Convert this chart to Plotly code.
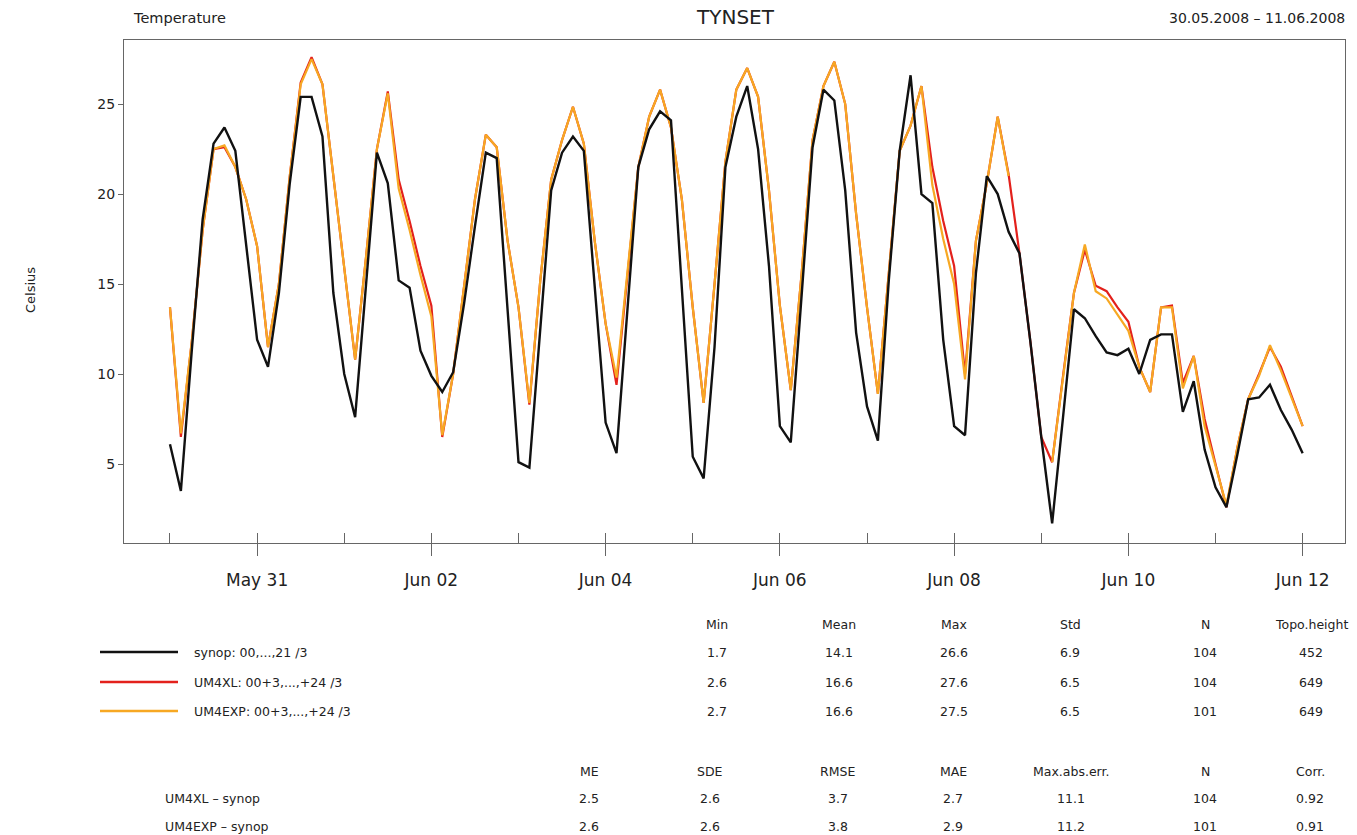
import pandas as pd
import plotly.graph_objects as go

# ---------------- data ----------------
start_time = "2008-05-30 00:00"
step = "3h"

synop = [6.1, 3.5, 11.3, 18.6, 22.8, 23.7, 22.4, 17.1, 11.9, 10.4,
         14.5, 20.6, 25.4, 25.4, 23.2, 14.5, 10.0, 7.6, 15.1, 22.3,
         20.6, 15.2, 14.8, 11.3, 9.9, 9.0, 10.1, 13.9, 18.2, 22.3,
         22.0, 13.7, 5.1, 4.8, 12.4, 20.2, 22.3, 23.2, 22.4, 15.0,
         7.3, 5.6, 13.8, 21.5, 23.6, 24.6, 24.1, 15.0, 5.4, 4.2,
         11.5, 21.5, 24.3, 26.0, 22.5, 16.0, 7.1, 6.2, 14.3, 22.6,
         25.8, 25.2, 20.2, 12.3, 8.2, 6.3, 15.2, 22.4, 26.6, 20.0,
         19.5, 11.9, 7.1, 6.6, 15.6, 21.0, 20.0, 17.9, 16.7, 11.8,
         6.5, 1.7, 7.6, 13.6, 13.1, 12.1, 11.2, 11.05, 11.4, 10.0,
         11.9, 12.2, 12.2, 7.9, 9.6, 5.8, 3.7, 2.6, 5.5, 8.6,
         8.7, 9.4, 8.0, 6.9, 5.6]

um4xl = [13.7, 6.5, 11.8, 18.0, 22.5, 22.6, 21.5, 19.7, 17.1, 11.5,
         15.0, 21.0, 26.2, 27.6, 26.1, 21.1, 16.0, 10.8, 16.5, 22.5,
         25.7, 20.8, 18.5, 16.0, 13.8, 6.5, 10.0, 14.7, 19.7, 23.3,
         22.6, 17.4, 13.7, 8.3, 15.2, 20.8, 23.0, 24.85, 22.8, 17.4,
         12.8, 9.4, 15.6, 21.5, 24.3, 25.8, 23.7, 19.7, 13.7, 8.4,
         15.0, 21.8, 25.8, 27.0, 25.4, 20.2, 13.8, 9.1, 15.6, 23.0,
         26.0, 27.35, 25.0, 18.9, 13.7, 8.9, 15.6, 22.4, 23.8, 26.0,
         21.5, 18.5, 16.0, 10.0, 17.4, 20.6, 24.3, 21.1, 16.7, 11.8,
         6.5, 5.1, 9.9, 14.5, 16.9, 14.9, 14.6, 13.7, 12.9, 10.4,
         9.0, 13.7, 13.8, 9.5, 11.0, 7.5, 5.0, 2.6, 5.9, 8.6,
         10.0, 11.5, 10.4, 8.8, 7.1]

um4exp = [13.7, 6.7, 11.8, 18.0, 22.5, 22.7, 21.5, 19.7, 17.1, 11.5,
          15.0, 21.0, 26.1, 27.5, 26.1, 21.1, 16.0, 10.8, 16.5, 22.5,
          25.6, 20.3, 18.0, 15.5, 13.2, 6.6, 10.0, 14.7, 19.7, 23.3,
          22.6, 17.4, 13.7, 8.4, 15.2, 20.8, 23.0, 24.85, 22.8, 17.4,
          12.8, 9.8, 15.6, 21.5, 24.3, 25.8, 23.7, 19.7, 13.7, 8.4,
          15.0, 21.8, 25.8, 27.0, 25.4, 20.2, 13.8, 9.1, 15.6, 23.0,
          26.0, 27.35, 25.0, 18.9, 13.7, 8.9, 15.6, 22.4, 23.8, 26.0,
          20.5, 17.5, 15.0, 9.7, 17.4, 20.6, 24.3, 21.0, None, None,
          None, 5.1, 9.9, 14.5, 17.2, 14.6, 14.2, 13.3, 12.4, 10.4,
          9.0, 13.7, 13.7, 9.2, 11.0, 7.1, 4.9, 2.7, 5.9, 8.6,
          9.9, 11.6, 10.2, 8.6, 7.1]

series_names = ["synop: 00,...,21 /3", "UM4XL: 00+3,...,+24 /3", "UM4EXP: 00+3,...,+24 /3"]
series_colors = ["#111111", "#e3211c", "#f7a823"]

stat_headers = ["Min", "Mean", "Max", "Std", "N", "Topo.height"]
stat_rows = [["1.7", "14.1", "26.6", "6.9", "104", "452"],
             ["2.6", "16.6", "27.6", "6.5", "104", "649"],
             ["2.7", "16.6", "27.5", "6.5", "101", "649"]]

err_headers = ["ME", "SDE", "RMSE", "MAE", "Max.abs.err.", "N", "Corr."]
err_labels = ["UM4XL \u2013 synop", "UM4EXP \u2013 synop"]
err_rows = [["2.5", "2.6", "3.7", "2.7", "11.1", "104", "0.92"],
            ["2.6", "2.6", "3.8", "2.9", "11.2", "101", "0.91"]]

times = pd.date_range(start_time, periods=len(synop), freq=step)

# ---------------- layout geometry (pixels) ----------------
W, H = 1357, 835
PL, PR, PT, PB = 124, 1345, 40, 543


def px(x):
    return (x - PL) / (PR - PL)


def py(y):
    return (PB - y) / (PB - PT)


FONT = "DejaVu Sans, Liberation Sans, Arial, sans-serif"
TXT = "#222222"
SMALL = 12.5

fig = go.Figure()
fig.add_trace(go.Scatter(x=times, y=um4xl, mode="lines", name=series_names[1],
                         line=dict(color=series_colors[1], width=2.2), connectgaps=False))
fig.add_trace(go.Scatter(x=times, y=um4exp, mode="lines", name=series_names[2],
                         line=dict(color=series_colors[2], width=2.2), connectgaps=False))
fig.add_trace(go.Scatter(x=times, y=synop, mode="lines", name=series_names[0],
                         line=dict(color=series_colors[0], width=2.4)))
# invisible trace on overlaying axis to carry the inside daily ticks
fig.add_trace(go.Scatter(x=[times[0]], y=[synop[0]], xaxis="x2", mode="lines",
                         line=dict(width=0), showlegend=False, hoverinfo="skip"))

xrange = ["2008-05-29 11:20", "2008-06-12 11:40"]

fig.update_layout(
    width=W, height=H,
    margin=dict(l=PL, r=W - PR, t=PT, b=H - PB),
    paper_bgcolor="white", plot_bgcolor="white",
    showlegend=False,
    font=dict(family=FONT, color=TXT),
    xaxis=dict(type="date", range=xrange, showgrid=False, zeroline=False,
               showline=True, linecolor="#666666", linewidth=1, mirror=True,
               ticks="outside", ticklen=12, tickcolor="#666666",
               tick0="2008-05-31", dtick=2 * 86400000, tickformat="%b %d",
               tickfont=dict(size=17, color=TXT, family=FONT),
               ticklabelstandoff=10),
    xaxis2=dict(type="date", range=xrange, overlaying="x", anchor="y", side="bottom",
                showgrid=False, zeroline=False, showline=False,
                ticks="inside", ticklen=10, tickcolor="#666666",
                tick0="2008-05-30", dtick=86400000, showticklabels=False),
    yaxis=dict(range=[0.61, 28.56], showgrid=False, zeroline=False,
               showline=True, linecolor="#666666", linewidth=1, mirror=True,
               ticks="outside", ticklen=5, tickcolor="#666666",
               tickvals=[5, 10, 15, 20, 25],
               tickfont=dict(size=14, color=TXT, family=FONT)),
)

ann = []


def text(x, y, s, size=SMALL, anchor="center", angle=0):
    ann.append(dict(x=px(x), y=py(y), xref="paper", yref="paper", text=s,
                    showarrow=False, xanchor=anchor, yanchor="middle", textangle=angle,
                    font=dict(size=size, color=TXT, family=FONT)))


# header texts
text(131, 18, "Temperature", size=14.5, anchor="left")
text(735, 17, "TYNSET", size=20)
text(1347, 18, "30.05.2008 \u2013 11.06.2008", size=14, anchor="right")
text(30, 290, "Celsius", size=13, angle=-90)

# legend rows
legend_y = [652, 682, 711]
shapes = []
for name, color, yy in zip(series_names, series_colors, legend_y):
    shapes.append(dict(type="line", xref="paper", yref="paper",
                       x0=px(100), x1=px(178), y0=py(yy), y1=py(yy),
                       line=dict(color=color, width=2.5)))
    text(192, yy, name, anchor="left")

# statistics table
stat_x = [717, 839, 954, 1070, 1205, 1311]
for hx, h in zip(stat_x, stat_headers):
    text(hx, 624, h)
for row, yy in zip(stat_rows, legend_y):
    for vx, v in zip(stat_x, row):
        text(vx, yy, v)

# error table
err_x = [589, 710, 838, 953, 1071, 1205, 1310]
for hx, h in zip(err_x, err_headers):
    text(hx, 771, h)
for lab, row, yy in zip(err_labels, err_rows, [799, 826]):
    text(163, yy, lab, anchor="left")
    for vx, v in zip(err_x, row):
        text(vx, yy, v)

fig.update_layout(annotations=ann, shapes=shapes)

fig.write_html("out.html", config={"displayModeBar": False},
               post_script="document.body.style.margin='0';document.body.style.overflow='hidden';")
